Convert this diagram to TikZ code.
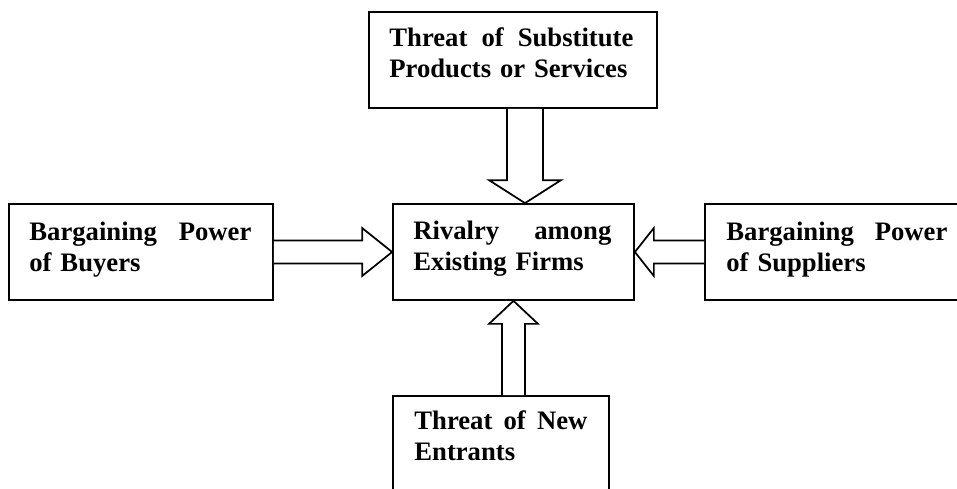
\documentclass[tikz,border=0pt]{standalone}
\usepackage{fontspec}
\setmainfont{Liberation Serif}
\usetikzlibrary{calc}
\newdimen\pxu
\pxu=0.75pt
\tikzset{
  forcebox/.style={draw, line width=1.3pt, rectangle, inner sep=0pt, fill=white},
  forcetext/.style={inner sep=0pt, anchor=base west, align=left,
    font=\fontsize{20}{23.25}\selectfont\bfseries},
  blockarrow/.style={draw, line width=1.3pt, line join=miter, fill=white},
}
\begin{document}
\begin{tikzpicture}[x=0.75pt, y=-0.75pt]
\fill[white] (0,0) rectangle (957,489);
\clip (0,0) rectangle (957,489);
\useasboundingbox (0,0) rectangle (957,489);

% the five boxes
\node[forcebox, minimum width=288\pxu, minimum height=96\pxu] (sub) at (513,60) {};
\node[forcebox, minimum width=241\pxu, minimum height=96\pxu] (rival) at (513.5,252) {};
\node[forcebox, minimum width=264\pxu, minimum height=96\pxu] (buy) at (141,252) {};
\node[forcebox, minimum width=270\pxu, minimum height=96\pxu] (sup) at (840,252) {};
\node[forcebox, minimum width=216\pxu, minimum height=104\pxu] (entr) at (501,448) {};

% their texts
\node[forcetext, text width=244\pxu] (subT) at ($(sub.north west)+(21,35)$)
  {Threat\hfill of\hfill Substitute\\Products or Services};
\node[forcetext, text width=198\pxu] (rivalT) at ($(rival.north west)+(21,36)$)
  {Rivalry\hfill among\\Existing Firms};
\node[forcetext, text width=222\pxu] (buyT) at ($(buy.north west)+(21,37)$)
  {Bargaining\hfill Power\\of Buyers};
\node[forcetext, text width=221\pxu] (supT) at ($(sup.north west)+(22,37)$)
  {Bargaining\hfill Power\\of Suppliers};
\node[forcetext, text width=173\pxu] (entrT) at ($(entr.north west)+(22,34)$)
  {Threat\hfill of\hfill New\\Entrants};

% downward arrow from substitutes
\coordinate (dT) at ($(sub.south)+(12,0)$);
\coordinate (dP) at (dT |- rival.north);
\draw[blockarrow] ($(dT)+(-18,0)$) -- ($(dP)+(-18,-23)$) -- ($(dP)+(-36,-23)$) -- (dP)
  -- ($(dP)+(36,-23)$) -- ($(dP)+(18,-23)$) -- ($(dT)+(18,0)$);

% upward arrow from new entrants
\coordinate (uT) at (entr.north -| rival.south);
\draw[blockarrow] ($(uT)+(-11.5,0)$) -- ($(rival.south)+(-11.5,23)$) -- ($(rival.south)+(-24.5,23)$)
  -- (rival.south) -- ($(rival.south)+(24.5,23)$) -- ($(rival.south)+(11.5,23)$) -- ($(uT)+(11.5,0)$);

% rightward arrow from buyers
\draw[blockarrow] ($(buy.east)+(0,-11.5)$) -- ($(rival.west)+(-30,-11.5)$) -- ($(rival.west)+(-30,-24)$)
  -- (rival.west) -- ($(rival.west)+(-30,24)$) -- ($(rival.west)+(-30,11.5)$) -- ($(buy.east)+(0,11.5)$);

% leftward arrow from suppliers
\draw[blockarrow] ($(sup.west)+(0,-11.5)$) -- ($(rival.east)+(19,-11.5)$) -- ($(rival.east)+(19,-24)$)
  -- (rival.east) -- ($(rival.east)+(19,24)$) -- ($(rival.east)+(19,11.5)$) -- ($(sup.west)+(0,11.5)$);
\end{tikzpicture}
\end{document}
